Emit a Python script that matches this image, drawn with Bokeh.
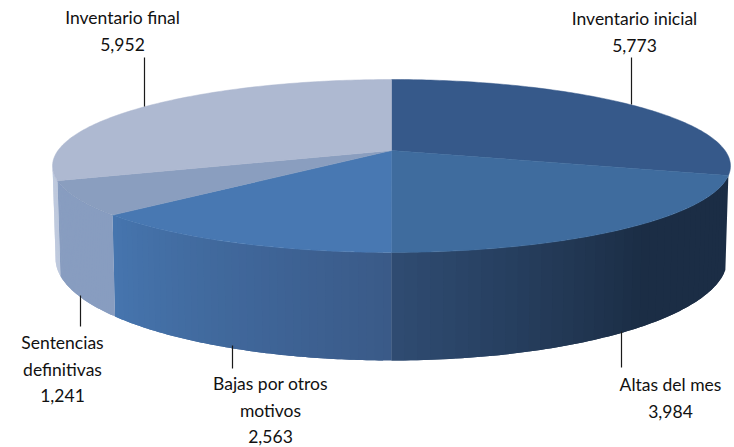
import math
from bokeh.plotting import figure
from bokeh.core.properties import value
from bokeh.embed import file_html
from bokeh.resources import INLINE

categories = ["Inventario inicial", "Altas del mes", "Bajas por otros motivos",
              "Sentencias definitivas", "Inventario final"]
values = [5773, 3984, 2563, 1241, 5952]
label_rows = [["Inventario inicial"], ["Altas del mes"], ["Bajas por otros", "motivos"],
              ["Sentencias", "definitivas"], ["Inventario final"]]
top_colors = ["#36598a", "#3f6c9e", "#4878b2", "#8a9ebf", "#aeb9d1"]
side_stops = [None,
              [(0.0, "#1b2d45"), (0.45, "#1b2d45"), (1.0, "#2f4c72")],
              [(0.0, "#3a5a88"), (1.0, "#4675ae")],
              [(0.0, "#889dc0"), (1.0, "#889dc0")],
              [(0.0, "#b8c4da"), (1.0, "#b8c4da")]]
label_anchor = [(634, 18), (670, 384), (270, 383), (62, 342), (122, 17)]
leaders = [(631, 57, 104), (621, 331, 367), (232, 345, 368), (80, 295, 326), (144, 57, 106)]
ROW = 26.5

CX, CY, R, K, P = 391, 150, 333.5, 83.7, 0.179
BY, BR, BK = 240, 330.5, 98.5


def top(t):
    w = 1 + P * math.cos(t)
    return CX + R * math.sin(t) / w, CY - K * math.cos(t) / w


def bottom(t):
    w = 1 + P * math.cos(t)
    return CX + BR * math.sin(t) / w, BY - BK * math.cos(t) / w


def mix(stops, f):
    for (a, ca), (b, cb) in zip(stops, stops[1:]):
        if f <= b:
            g = 0 if b == a else (f - a) / (b - a)
            ch = [round(int(ca[i:i+2], 16) * (1 - g) + int(cb[i:i+2], 16) * g) for i in (1, 3, 5)]
            return "#%02x%02x%02x" % tuple(ch)
    return stops[-1][1]


total = sum(values)
edges = [0.0]
for v in values:
    edges.append(edges[-1] + 2 * math.pi * v / total)

vis0 = math.acos(-P)
vis1 = 2 * math.pi - vis0

p = figure(width=734, height=447, x_range=(0, 734), y_range=(447, 0),
           output_backend="svg", toolbar_location=None, min_border=0,
           x_axis_type=None, y_axis_type=None, outline_line_color=None,
           background_fill_color="white", border_fill_color="white")
p.grid.visible = False

# side wall, in overlapping strips for the gradient
sx, sy, sc = [], [], []
for i, stops in enumerate(side_stops):
    if stops is None:
        continue
    a = max(edges[i], vis0)
    b = min(edges[i + 1], vis1)
    n = 40
    for j in range(n):
        t0 = a + (b - a) * j / n
        t1 = min(b, a + (b - a) * (j + 2) / n)
        tm = [t0 + (t1 - t0) * q / 4 for q in range(5)]
        up = [top(t) for t in tm]
        lo = [bottom(t) for t in reversed(tm)]
        sx.append([q[0] for q in up + lo]); sy.append([q[1] for q in up + lo])
        sc.append(mix(stops, (j + 0.5) / n))
p.patches(sx, sy, fill_color=sc, line_color=None)

# top face
tx, ty = [], []
for i in range(len(values)):
    n = 120
    pts = [top(edges[i] + (edges[i + 1] - edges[i]) * j / n) for j in range(n + 1)]
    tx.append([CX] + [q[0] for q in pts])
    ty.append([CY] + [q[1] for q in pts])
p.patches(tx, ty, fill_color=top_colors, line_color=top_colors, line_width=0.5)

# leader lines
p.segment([l[0] for l in leaders], [l[1] for l in leaders],
          [l[0] for l in leaders], [l[2] for l in leaders],
          line_color="#1a1a1a", line_width=1.2)

# labels
lx, ly, lt = [], [], []
for rows, v, (ax, ay) in zip(label_rows, values, label_anchor):
    for k, row in enumerate(rows + [f"{v:,}"]):
        lx.append(ax); ly.append(ay + k * ROW); lt.append(row)
p.text(lx, ly, text=lt, text_align="center", text_baseline="middle",
       text_font=value("Lato"), text_font_size="17.5px", text_color="#111111")

open("out.html", "w").write(file_html(p, INLINE))
